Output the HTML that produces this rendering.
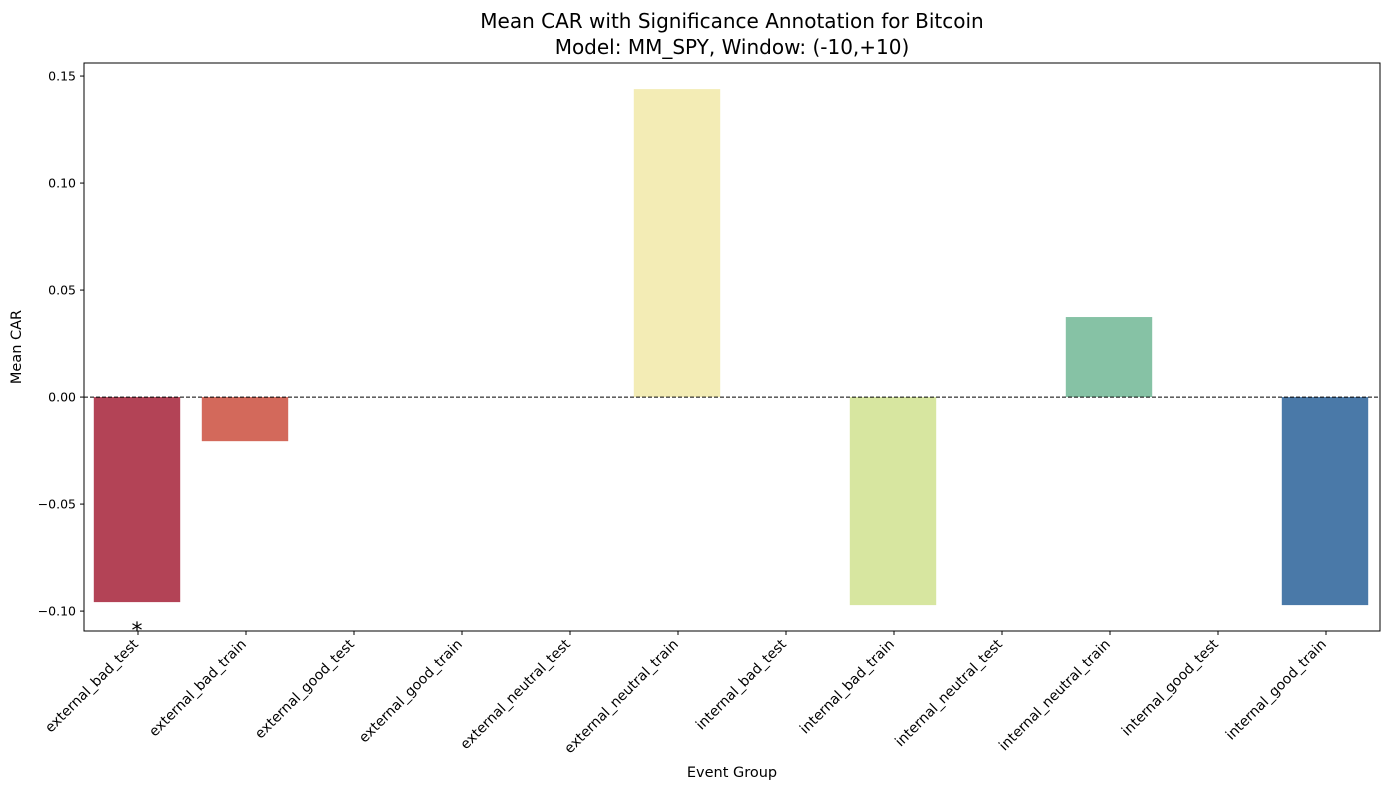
<!DOCTYPE html>
<html><head><meta charset="utf-8"><style>
body{margin:0;background:#fff;font-family:"Liberation Sans","DejaVu Sans",sans-serif}
svg text{font-family:"DejaVu Sans","Liberation Sans",sans-serif}
</style></head><body>
<svg id="chart" width="1389" height="790" xmlns="http://www.w3.org/2000/svg">
<text x="732" y="28" text-anchor="middle" font-size="20">Mean CAR with Significance Annotation for Bitcoin</text>
<text x="732" y="54" text-anchor="middle" font-size="20">Model: MM_SPY, Window: (-10,+10)</text>
<text x="732" y="777" text-anchor="middle" font-size="14.5">Event Group</text>
<text transform="translate(21,347) rotate(-90)" text-anchor="middle" font-size="14.5">Mean CAR</text>
<g id="bars"></g><g id="axes"></g>
</svg>
<script>
const categories=["external_bad_test","external_bad_train","external_good_test","external_good_train","external_neutral_test","external_neutral_train","internal_bad_test","internal_bad_train","internal_neutral_test","internal_neutral_train","internal_good_test","internal_good_train"];
const values=[-0.0958,-0.0206,null,null,null,0.1439,null,-0.0972,null,0.0374,null,-0.0972];
const colors=["#b34356","#d3695b","#f0a35e","#f9d27f","#fbefa9","#f3ecb5","#e9f4a5","#d7e6a0","#a9d9a2","#86c2a5","#6598b8","#4a79a8"];
const significance=["*","","","","","","","","","","",""];
const yTicks=[-0.10,-0.05,0.00,0.05,0.10,0.15];
const yTickLabels=["\u22120.10","\u22120.05","0.00","0.05","0.10","0.15"];
const L=84,R=1380,T=63,B=631,yMin=-0.1093,yMax=0.1561;
const NS="http://www.w3.org/2000/svg";
const bw=(R-L)/categories.length;
const xc=i=>L+bw*(i+0.5);
const y=v=>T+(yMax-v)/(yMax-yMin)*(B-T);
function mk(t,a,p){const e=document.createElementNS(NS,t);for(const k in a)e.setAttribute(k,a[k]);p.appendChild(e);return e;}
const bars=document.getElementById('bars'),axes=document.getElementById('axes');
values.forEach((v,i)=>{
 if(v===null)return;
 const r=mk('rect',{x:xc(i)-bw*0.4-1,y:Math.min(y(v),y(0)),width:bw*0.8,height:Math.abs(y(v)-y(0)),fill:colors[i]},bars);
 
 
 if(significance[i]){
  const s=mk('text',{x:xc(i)-1,y:Math.min(y(v)+36,B+10),'text-anchor':'middle','font-size':'22'},bars);
  s.textContent=significance[i];
  
  
 }
});
const z=mk('line',{x1:L,x2:R,y1:y(0),y2:y(0),stroke:'#000','stroke-width':1,'stroke-dasharray':'4,2'},axes);


const fr=mk('rect',{x:L,y:T,width:R-L,height:B-T,fill:'none',stroke:'#000','stroke-width':1},axes);


yTicks.forEach((t,i)=>{
 mk('line',{x1:L-4,x2:L,y1:y(t),y2:y(t),stroke:'#000'},axes);
 const tx=mk('text',{x:L-8,y:y(t)+4.5,'text-anchor':'end','font-size':'12.5'},axes);
 tx.textContent=yTickLabels[i];
 
 
});
categories.forEach((c,i)=>{
 mk('line',{x1:xc(i),x2:xc(i),y1:B,y2:B+4,stroke:'#000'},axes);
 const ax=xc(i)+1, ay=B+14;
 const tx=mk('text',{x:ax,y:ay,'text-anchor':'end','font-size':'14',transform:`rotate(-45 ${ax} ${ay})`},axes);
 tx.textContent=c;
 
 
});
</script>
</body></html>
